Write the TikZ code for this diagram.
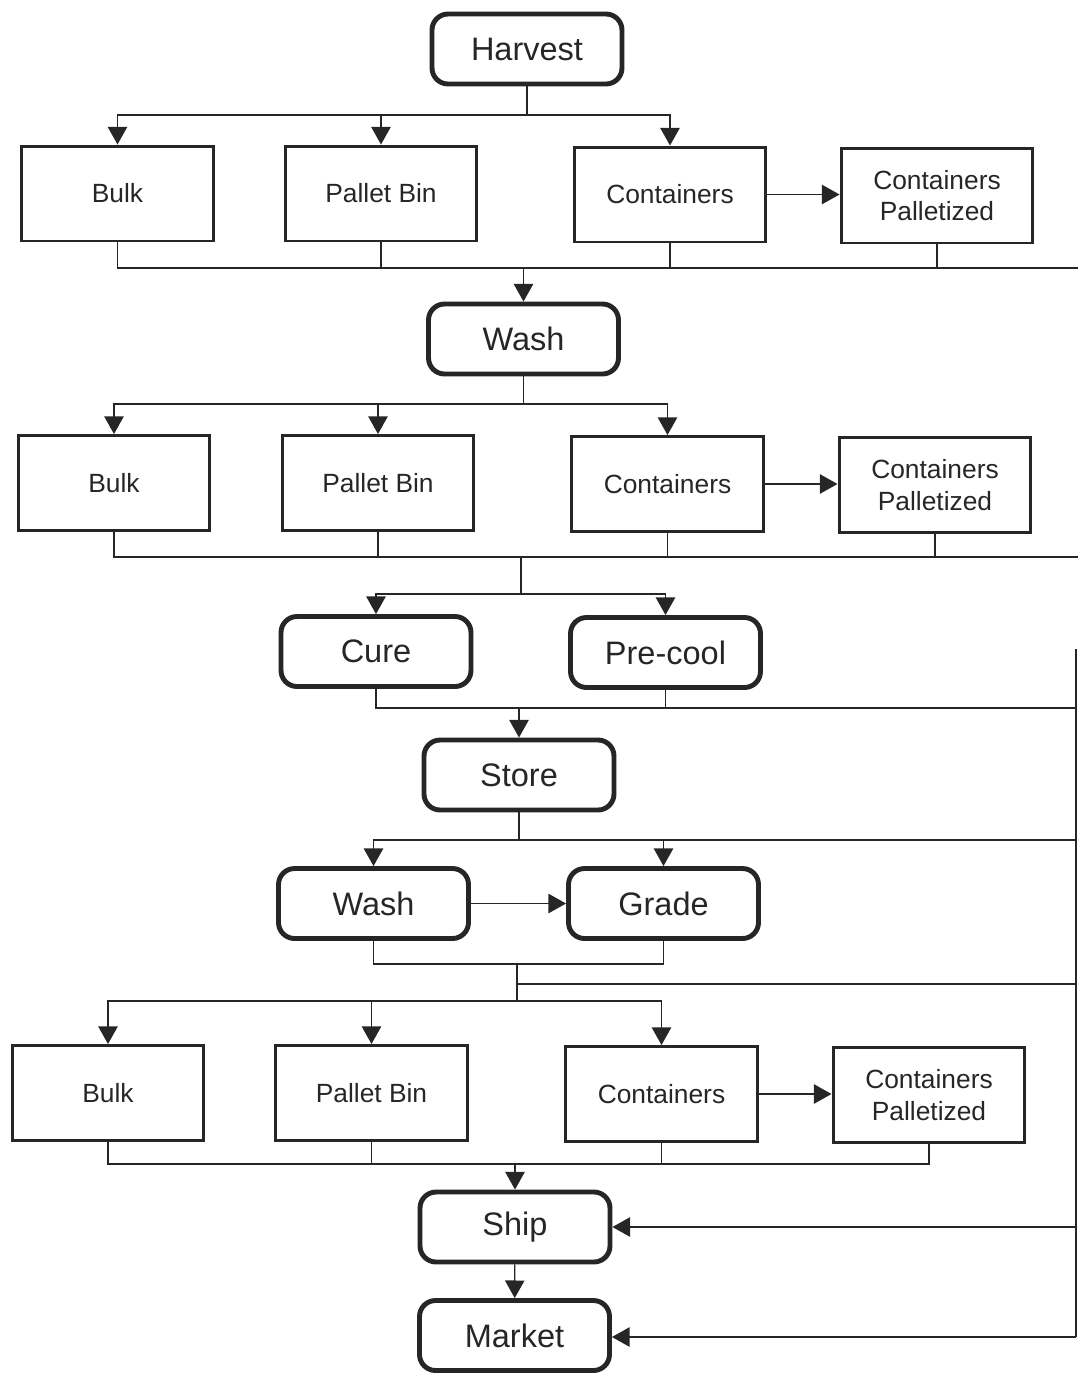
\documentclass[tikz,border=0pt]{standalone}
\usepackage{fontspec}
\setmainfont{Liberation Sans}
\usetikzlibrary{arrows.meta}

\begin{document}
\begin{tikzpicture}[x=0.02cm, y=-0.02cm, black!85,
  stepbox/.style={draw, line width=2.8pt, rounded corners=0.32cm,
    minimum width=3.8cm, minimum height=1.4cm, inner sep=0pt,
    font=\fontsize{18.5}{22}\selectfont},
  packbox/.style={draw, line width=1.7pt, minimum width=3.84cm,
    minimum height=1.9cm, inner sep=0pt, align=center,
    font=\fontsize{15}{18}\selectfont},
  line/.style={line width=0.75pt},
  arr/.style={line width=0.75pt, -{Triangle[length=10pt, width=11pt]}}]
  \useasboundingbox (0,0) rectangle (1078,1374);

  % Harvest and field packing
  \node[stepbox] (harvest) at (527,49) {Harvest};
  \node[packbox] (bulkA)   at (117.5,193.5) {Bulk};
  \node[packbox] (palletA) at (381,193.5) {Pallet Bin};
  \node[packbox] (contA)   at (670,194.5) {Containers};
  \node[packbox] (cpA)     at (937,195.5) {Containers\\Palletized};

  \coordinate (jA) at (527,115);
  \draw[line] (harvest.south) -- (jA);
  \draw[arr] (jA) -| (bulkA);
  \draw[arr] (jA) -| (palletA);
  \draw[arr] (jA) -| (contA);
  \draw[arr] (contA.east) -- (contA.east -| cpA.west);

  % Wash
  \node[stepbox] (washA) at (523.5,339) {Wash};
  \coordinate (eA) at (1078,268);
  \draw[line] (bulkA.south) |- (eA);
  \draw[line] (palletA.south) -- (palletA.south |- eA);
  \draw[line] (contA.south) -- (contA.south |- eA);
  \draw[line] (cpA.south) -- (cpA.south |- eA);
  \draw[arr] (washA |- eA) -- (washA);

  % Packing after wash
  \node[packbox] (bulkB)   at (114,483) {Bulk};
  \node[packbox] (palletB) at (378,483) {Pallet Bin};
  \node[packbox] (contB)   at (667.5,484) {Containers};
  \node[packbox] (cpB)     at (935,485) {Containers\\Palletized};

  \coordinate (jB) at (523.5,404);
  \draw[line] (washA.south) -- (jB);
  \draw[arr] (jB) -| (bulkB);
  \draw[arr] (jB) -| (palletB);
  \draw[arr] (jB) -| (contB);
  \draw[arr] (contB.east) -- (contB.east -| cpB.west);

  % Cure and pre-cool
  \node[stepbox] (cure)    at (376,651.5) {Cure};
  \node[stepbox] (precool) at (665.5,652.5) {Pre-cool};
  \coordinate (eB) at (1078,557);
  \coordinate (jC) at (521,594);
  \draw[line] (bulkB.south) |- (eB);
  \draw[line] (palletB.south) -- (palletB.south |- eB);
  \draw[line] (contB.south) -- (contB.south |- eB);
  \draw[line] (cpB.south) -- (cpB.south |- eB);
  \draw[line] (jC |- eB) -- (jC);
  \draw[arr] (jC) -| (cure);
  \draw[arr] (jC) -| (precool);

  % Store
  \node[stepbox] (store) at (519,775) {Store};
  \coordinate (rtop) at (1076,649);
  \coordinate (rA) at (1076,708);
  \draw[line] (cure.south) |- (rA);
  \draw[line] (precool.south) -- (precool.south |- rA);
  \draw[arr] (store |- rA) -- (store);

  % Wash and grade
  \node[stepbox] (washB) at (373.5,903.5) {Wash};
  \node[stepbox] (grade) at (663.5,903.5) {Grade};
  \coordinate (rB) at (1076,840);
  \draw[line] (store.south) -- (store.south |- rB);
  \draw[arr] (rB) -| (washB);
  \draw[arr] (grade |- rB) -- (grade);
  \draw[arr] (washB) -- (grade);

  % Packing after grading
  \node[packbox] (bulkC)   at (108,1093) {Bulk};
  \node[packbox] (palletC) at (371.5,1093) {Pallet Bin};
  \node[packbox] (contC)   at (661.5,1094) {Containers};
  \node[packbox] (cpC)     at (929,1095) {Containers\\Palletized};

  \coordinate (jD) at (517,964);
  \coordinate (jE) at (517,1001);
  \coordinate (rC) at (1076,984);
  \draw[line] (washB.south) |- (jD) -| (grade.south);
  \draw[line] (jD) -- (jE);
  \draw[line] (jD |- rC) -- (rC);
  \draw[arr] (jE) -| (bulkC);
  \draw[arr] (jE) -| (palletC);
  \draw[arr] (jE) -| (contC);
  \draw[arr] (contC.east) -- (contC.east -| cpC.west);

  % Ship and market
  \node[stepbox] (ship)   at (515,1227) {Ship};
  \node[stepbox] (market) at (514.5,1335.5) {Market};
  \coordinate (jF) at (515,1164);
  \coordinate (rbot) at (1076,1337);
  \draw[line] (bulkC.south) |- (cpC.south |- jF) -- (cpC.south);
  \draw[line] (palletC.south) -- (palletC.south |- jF);
  \draw[line] (contC.south) -- (contC.south |- jF);
  \draw[arr] (jF) -- (ship);
  \draw[arr] (ship) -- (market);

  % Direct route to shipping
  \draw[line] (rtop) -- (rbot);
  \draw[arr] (rbot |- ship) -- (ship);
  \draw[arr] (rbot) -- (rbot -| market.east);
\end{tikzpicture}
\end{document}
